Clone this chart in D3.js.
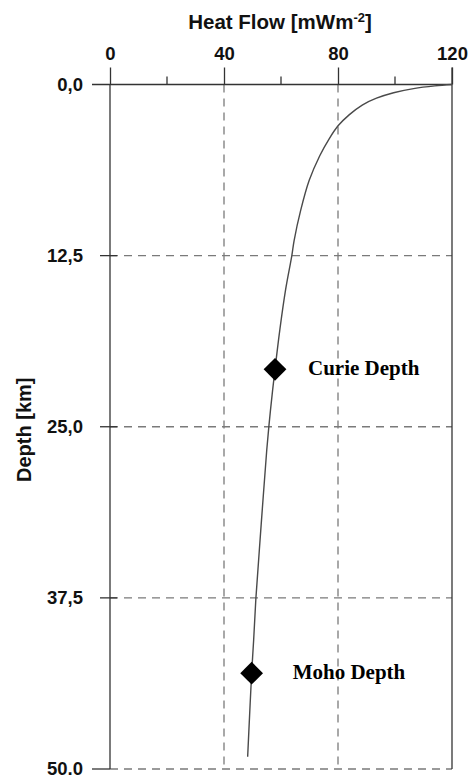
<!DOCTYPE html>
<html>
<head>
<meta charset="utf-8">
<script src="https://cdn.jsdelivr.net/npm/d3@7"></script>
<style>
  html, body { margin: 0; padding: 0; background: #fff; }
  svg { display: block; }
</style>
</head>
<body>
<div id="chart"></div>
<script>
// Geotherm: surface heat flow against depth
const depthKm   = [0, 0.1, 0.3, 0.6, 1.0, 1.5, 2.2, 3.0, 4.0, 5.2, 7.0, 9.2, 11.4, 12.5, 15, 17.9, 20.8, 23.8, 26.7, 30, 34, 37.5, 40.6, 43, 46, 49.1];
const heatFlow  = [120, 114, 106.5, 99.5, 93.5, 88.5, 84, 80.1, 76.8, 73.6, 69.9, 66.9, 64.6, 63.8, 61.6, 59.6, 57.9, 56.3, 55.0, 53.8, 52.4, 51.2, 50.4, 49.7, 49.0, 48.3];

const markerNames = ["Curie Depth", "Moho Depth"];
const markerFlow  = [57.9, 49.7];
const markerDepth = [20.8, 43.0];

const xMajorTicks = [0, 40, 80, 120];
const xMinorTicks = [20, 60, 100];
const yTicks      = [0, 12.5, 25, 37.5, 50];

const W = 470, H = 775;
const margin = { top: 84.5, right: 18, bottom: 6, left: 110 };

const svg = d3.select("#chart").append("svg")
  .attr("width", W).attr("height", H);

const x = d3.scaleLinear().domain([0, 120]).range([margin.left, W - margin.right]);
const y = d3.scaleLinear().domain([0, 50]).range([margin.top, H - margin.bottom]);

const axisColor = "#333";
const gridColor = "#7a7a7a";
const sansBold = "'Liberation Sans', Arial, Helvetica, sans-serif";
const serifBold = "'Liberation Serif', 'Times New Roman', serif";

// dashed grid
const grid = svg.append("g").attr("stroke", gridColor).attr("stroke-width", 1.3)
  .attr("stroke-dasharray", "8,6");
grid.selectAll("line.v").data([40, 80]).join("line")
  .attr("x1", d => x(d)).attr("x2", d => x(d))
  .attr("y1", y(0)).attr("y2", y(50));
grid.selectAll("line.h").data([12.5, 25, 37.5, 50]).join("line")
  .attr("x1", x(0)).attr("x2", x(120))
  .attr("y1", d => y(d)).attr("y2", d => y(d));

// top axis
const topAxis = d3.axisTop(x).tickValues(xMajorTicks).tickSize(17).tickPadding(8)
  .tickFormat(d3.format("d"));
const gTop = svg.append("g").attr("transform", `translate(0,${y(0)})`).call(topAxis);
gTop.select(".domain").remove();
gTop.selectAll(".tick line").attr("stroke", axisColor).attr("stroke-width", 1.3);
gTop.selectAll(".tick text").attr("fill", "#111")
  .style("font-family", sansBold).style("font-weight", "bold").style("font-size", "18.5px");

svg.append("g").selectAll("line").data(xMinorTicks).join("line")
  .attr("x1", d => x(d)).attr("x2", d => x(d))
  .attr("y1", y(0) - 8).attr("y2", y(0))
  .attr("stroke", axisColor).attr("stroke-width", 1.3);

// frame lines
const frame = svg.append("g").attr("stroke", axisColor).attr("stroke-width", 1.3);
frame.append("line").attr("x1", x(0) - 18).attr("x2", x(120)).attr("y1", y(0)).attr("y2", y(0));
frame.append("line").attr("x1", x(0)).attr("x2", x(0)).attr("y1", y(0)).attr("y2", y(50));
frame.append("line").attr("x1", x(120)).attr("x2", x(120)).attr("y1", y(0) - 17).attr("y2", y(50));
frame.append("line").attr("x1", x(0) - 18).attr("x2", x(0)).attr("y1", y(50)).attr("y2", y(50));

// left axis
const fmtComma = d => d3.format(".1f")(d).replace(".", ",");
const leftAxis = d3.axisLeft(y).tickValues(yTicks).tickSize(0).tickPadding(27).tickFormat(fmtComma);
const gLeft = svg.append("g").attr("transform", `translate(${x(0)},0)`).call(leftAxis);
gLeft.select(".domain").remove();
gLeft.selectAll(".tick text").attr("fill", "#111")
  .style("font-family", sansBold).style("font-weight", "bold").style("font-size", "18.5px");

svg.append("g").selectAll("line").data([12.5, 25, 37.5]).join("line")
  .attr("x1", x(0) - 10).attr("x2", x(0) + 7)
  .attr("y1", d => y(d)).attr("y2", d => y(d))
  .attr("stroke", axisColor).attr("stroke-width", 1.3);

// axis titles
const title = svg.append("text")
  .attr("x", (x(0) + x(120)) / 2 - 1).attr("y", 29)
  .attr("text-anchor", "middle").attr("fill", "#111")
  .style("font-family", sansBold).style("font-weight", "bold").style("font-size", "20.5px");
title.append("tspan").text("Heat Flow [mWm");
title.append("tspan").attr("dy", -7).style("font-size", "13px").text("-2");
title.append("tspan").attr("dy", 7).text("]");

svg.append("text")
  .attr("transform", `translate(31,${(y(0) + y(50)) / 2 + 3}) rotate(-90)`)
  .attr("text-anchor", "middle").attr("fill", "#111")
  .style("font-family", sansBold).style("font-weight", "bold").style("font-size", "20px")
  .text("Depth [km]");

// geotherm curve
const pts = depthKm.map((d, i) => [heatFlow[i], d]);
const line = d3.line().x(d => x(d[0])).y(d => y(d[1])).curve(d3.curveCatmullRom.alpha(0.5));
svg.append("path").datum(pts)
  .attr("d", line).attr("fill", "none")
  .attr("stroke", "#4a4a4a").attr("stroke-width", 1.4);

// depth markers
const markers = markerNames.map((n, i) => ({ name: n, hf: markerFlow[i], depth: markerDepth[i] }));
const diamond = d3.symbol().type(d3.symbolDiamond2).size(330);
svg.append("g").selectAll("path").data(markers).join("path")
  .attr("d", diamond)
  .attr("transform", d => `translate(${x(d.hf)},${y(d.depth)})`)
  .attr("fill", "#000");

svg.append("g").selectAll("text").data(markers).join("text")
  .attr("x", d => x(d.hf) + 33 + (d.name === "Moho Depth" ? 8 : 0))
  .attr("y", d => y(d.depth) + 6)
  .attr("fill", "#000")
  .style("font-family", serifBold).style("font-weight", "bold").style("font-size", "21px")
  .text(d => d.name);
</script>
</body>
</html>
